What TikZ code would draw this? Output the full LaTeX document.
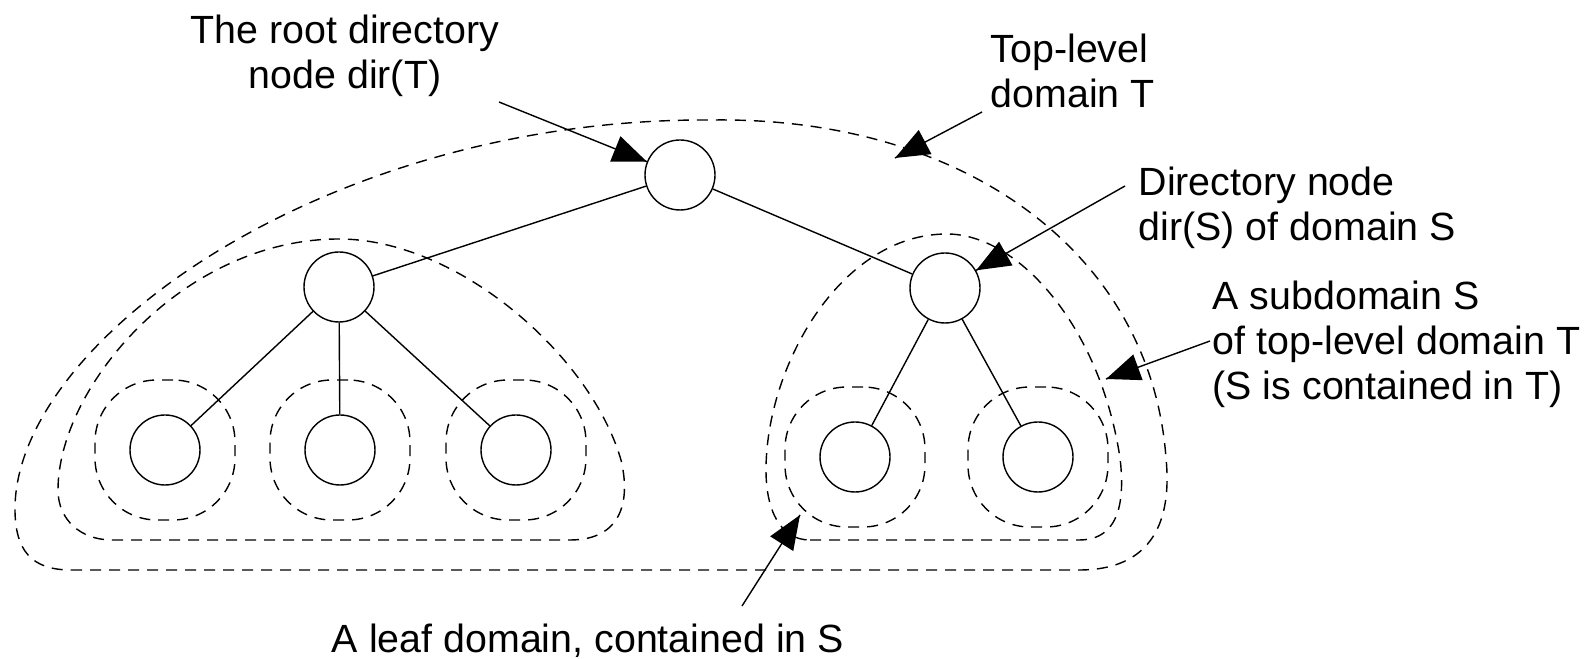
\documentclass[tikz,border=0pt]{standalone}
\usepackage{fontspec}
\setmainfont{Liberation Sans}
\usetikzlibrary{arrows.meta}
\usetikzlibrary{decorations.markings}
\usetikzlibrary{positioning}
\tikzset{pointer/.style = {decoration={markings,
                                  mark=at position 1 with {\arrow{Triangle[length=3.4mm,width=2.7mm]}}},
                      postaction={decorate}}}
\tikzset{dirnode/.style = {draw, circle, inner sep = 0, minimum size = 0.70cm}}
\tikzset{zone/.style = {dash pattern = on 1.1mm off 0.8mm}}
\tikzset{leafzone/.style = {zone, draw, inner sep = 0, minimum size = 1.40cm, rounded corners = 0.62cm}}
\tikzset{lbl/.style = {inner sep = 0, font = \fontsize{11.2}{12.8}\selectfont}}

\begin{document}
\begin{tikzpicture}
    \useasboundingbox (0, 0) rectangle (15.96, -6.59);

    \node [dirnode] (root) at (6.80, -1.75) {};
    \node [dirnode] (dirU) at (3.39, -2.87) {};
    \node [dirnode] (dirS) at (9.45, -2.88) {};
    \foreach \x [count=\i] in {1.65, 3.40, 5.16}
      \node [dirnode] (u\i) at (\x, -4.50) {};
    \foreach \x [count=\i] in {8.55, 10.38}
      \node [dirnode] (s\i) at (\x, -4.57) {};

    \draw (root) -- (dirU);
    \draw (root) -- (dirS);
    \foreach \i in {1, 2, 3} \draw (dirU) -- (u\i);
    \foreach \i in {1, 2} \draw (dirS) -- (s\i);

    % leaf domains
    \foreach \n in {u1, u2, u3, s1, s2}
      \node [leafzone] (\n zone) at (\n) {};

    % subdomains and top-level domain
    \draw [zone] (1.12, -5.40) -- (5.70, -5.40)
      .. controls (6.21, -5.40) and (6.31, -5.02) .. (6.21, -4.60)
      .. controls (5.91, -3.56) and (4.58, -2.39) .. (3.39, -2.39)
      .. controls (1.83, -2.39) and (0.58, -3.87) .. (0.58, -4.90)
      .. controls (0.58, -5.20) and (0.81, -5.40) .. (1.12, -5.40);
    \draw [zone] (8.10, -5.40) -- (10.79, -5.40)
      .. controls (11.20, -5.40) and (11.25, -5.00) .. (11.20, -4.58)
      .. controls (11.00, -3.26) and (10.18, -2.34) .. (9.47, -2.34)
      .. controls (8.40, -2.34) and (7.66, -3.67) .. (7.66, -4.70)
      .. controls (7.66, -5.10) and (7.80, -5.40) .. (8.10, -5.40);
    \draw [zone] (0.71, -5.70) -- (10.79, -5.70)
      .. controls (11.61, -5.70) and (11.71, -5.09) .. (11.66, -4.58)
      .. controls (11.51, -2.55) and (9.67, -1.17) .. (7.13, -1.20)
      .. controls (3.26, -1.17) and (0.15, -3.41) .. (0.15, -5.09)
      .. controls (0.15, -5.50) and (0.31, -5.70) .. (0.71, -5.70);

    % labels
    \node [lbl, align=center] (rootlbl) at (3.45, -0.56) {The root directory\\node dir(T)};
    \node [lbl, align=left, anchor=west] (toplbl) at (9.90, -0.71) {Top-level\\domain T};
    \node [lbl, align=left, anchor=west] (dirlbl) at (11.38, -2.08) {Directory node\\dir(S) of domain S};
    \node [lbl, align=left, anchor=west] (sublbl) at (12.12, -3.44) {A subdomain S\\of top-level domain T\\(S is contained in T)};
    \node [lbl, anchor=base] (leaflbl) at (5.88, -6.53) {A leaf domain, contained in S};

    \coordinate (rootfrom) at (4.99, -1.02);
    \coordinate (topfrom) at (9.82, -1.12);
    \coordinate (topto) at (8.95, -1.58);
    \coordinate (dirfrom) at (11.25, -1.86);
    \coordinate (subfrom) at (12.10, -3.41);
    \coordinate (subto) at (11.06, -3.79);
    \coordinate (leaffrom) at (7.42, -6.06);
    \coordinate (leafto) at (8.00, -5.15);

    \draw [pointer] (rootfrom) -- (root);
    \draw [pointer] (topfrom) -- (topto);
    \draw [pointer] (dirfrom) -- (dirS);
    \draw [pointer] (subfrom) -- (subto);
    \draw [pointer] (leaffrom) -- (leafto);
\end{tikzpicture}
\end{document}
